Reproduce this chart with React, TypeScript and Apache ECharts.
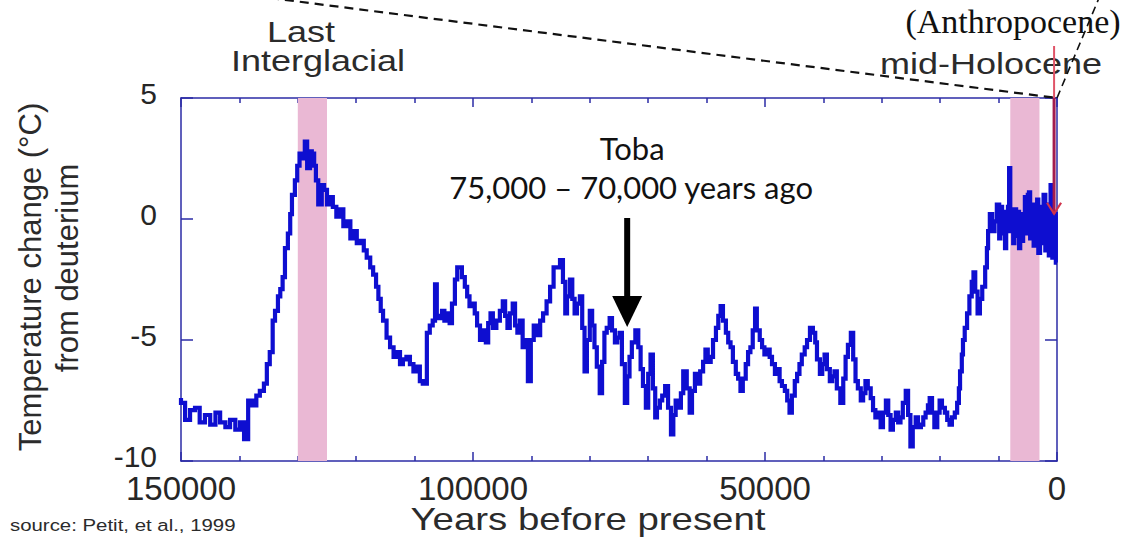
import React, { useEffect, useRef } from "react";
import * as echarts from "echarts";

// Years before present (x) and temperature change in °C (y)
const years = [
  150000, 149300, 148450, 147600, 146800, 145900, 145000, 144100, 143300, 142400,
  141600, 140700, 139900, 139200, 138500, 137800, 137100, 136500, 135800, 135300,
  134800, 134300, 133900, 133400, 133000, 132600, 132200, 131700, 131300, 131000,
  130500, 130100, 129700, 129300, 128800, 128400, 127900, 127600, 127200, 126900,
  126500, 125900, 125500, 125000, 124500, 124000, 123400, 122800, 122200, 121600,
  121000, 120500, 119900, 119300, 118700, 118200, 117600, 117100, 116600, 116200,
  115800, 115400, 114800, 114200, 113600, 113000, 112500, 112000, 111400, 110800,
  110200, 109600, 109100, 108600, 107900, 107400, 106900, 106500, 106200, 105800,
  105300, 104900, 104500, 104000, 103600, 103100, 102700, 101900, 101400, 101000,
  100600, 100200, 99700, 99300, 98800, 98300, 97800, 97400, 97000, 96600,
  96000, 95400, 94900, 94500, 94100, 93700, 93200, 92800, 92400, 92000,
  91500, 91100, 90600, 90100, 89600, 89100, 88500, 88000, 87400, 86800,
  86200, 85600, 85100, 84600, 84200, 83900, 83400, 83000, 82600, 82200,
  81700, 81300, 80900, 80500, 80000, 79600, 79200, 78800, 78300, 77900,
  77500, 77100, 76600, 76200, 75700, 75300, 74900, 74500, 74000, 73600,
  73200, 72800, 72200, 71700, 71300, 70900, 70400, 70000, 69600, 69200,
  68800, 68500, 68000, 67600, 67100, 66600, 66100, 65700, 65300, 64900,
  64400, 64000, 63400, 62900, 62500, 62000, 61600, 61100, 60600, 60200,
  59800, 59300, 58900, 58400, 58000, 57600, 57200, 56700, 56300, 55900,
  55500, 55000, 54600, 54200, 53800, 53300, 52900, 52500, 52100, 51700,
  51400, 50900, 50500, 50100, 49700, 49200, 48800, 48300, 47900, 47500,
  47100, 46600, 46200, 45800, 45400, 44900, 44500, 44100, 43700, 43200,
  42800, 42300, 41800, 41400, 41100, 40600, 40200, 39800, 39400, 38900,
  38500, 38100, 37700, 37100, 36600, 36200, 35800, 35300, 34900, 34500,
  34100, 33600, 33200, 32800, 32400, 31900, 31500, 31100, 30600, 30200,
  29800, 29300, 28900, 28500, 28100, 27600, 27200, 26800, 26400, 25900,
  25500, 25100, 24700, 24200, 23800, 23300, 22900, 22500, 22100, 21800,
  21400, 21000, 20500, 20100, 19700, 19200, 18800, 18400, 18000, 17500,
  17100, 16800, 16600, 16300, 16100, 15800, 15400, 15000, 14600, 14300,
  14000, 13600, 13200, 12800, 12300, 12000, 11800, 11500, 11100, 10700,
  10300, 9900, 9700, 9400, 9200, 8900, 8700, 8400, 8200, 8000,
  7800, 7500, 7300, 7000, 6800, 6500, 6300, 6000, 5800, 5500,
  5200, 5000, 4800, 4600, 4300, 4000, 3700, 3400, 3200, 2900,
  2600, 2300, 2000, 1700, 1400, 1100, 800, 500, 200, 0,
];

const temps = [
  -7.4, -7.6, -8.3, -7.9, -7.8, -8.4, -8.1, -8.5, -8.0, -8.4,
  -8.6, -8.3, -8.7, -8.4, -9.1, -7.5, -7.7, -7.3, -7.1, -6.8,
  -6.0, -5.5, -4.2, -3.8, -3.2, -2.9, -2.4, -1.2, -0.6, 0.2,
  1.0, 1.6, 2.2, 2.7, 2.5, 3.2, 2.1, 2.8, 2.7, 2.2,
  1.6, 0.6, 1.4, 1.2, 0.6, 0.9, 0.5, 0.1, 0.4, -0.3,
  -0.1, -0.8, -0.5, -1.0, -0.9, -1.3, -1.6, -2.0, -2.3, -2.8,
  -3.3, -3.8, -4.2, -4.9, -5.3, -5.7, -5.5, -6.0, -5.8, -5.7,
  -6.0, -6.3, -6.1, -6.7, -6.8, -4.7, -4.4, -4.2, -2.7, -4.0,
  -4.1, -3.8, -4.2, -3.9, -4.3, -3.5, -2.5, -2.0, -2.4, -2.8,
  -3.2, -3.6, -3.5, -3.9, -4.4, -5.0, -4.6, -5.1, -4.3, -3.9,
  -4.5, -4.2, -3.8, -3.4, -4.0, -4.5, -3.9, -3.5, -4.4, -4.7,
  -4.2, -5.3, -5.0, -6.7, -5.0, -4.4, -4.8, -4.2, -3.9, -3.4,
  -2.8, -2.0, -2.0, -1.7, -2.6, -3.9, -3.2, -2.5, -3.3, -3.9,
  -3.5, -3.2, -4.5, -6.3, -5.0, -3.8, -4.4, -5.3, -6.1, -7.2,
  -5.9, -4.7, -4.5, -4.1, -4.6, -5.1, -4.9, -4.7, -6.0, -7.6,
  -6.5, -5.7, -5.1, -4.6, -5.3, -6.2, -6.9, -7.8, -6.4, -5.6,
  -7.0, -8.2, -7.8, -7.5, -7.3, -6.9, -7.8, -8.9, -8.1, -7.5,
  -7.8, -7.2, -6.3, -7.0, -8.0, -7.1, -6.4, -6.8, -6.3, -5.9,
  -5.4, -5.9, -5.7, -5.0, -4.5, -4.0, -3.6, -4.2, -4.7, -5.1,
  -5.3, -5.9, -6.4, -6.6, -7.1, -6.6, -6.0, -5.5, -5.3, -4.6,
  -3.7, -4.6, -5.0, -5.3, -5.6, -5.4, -5.7, -6.0, -6.4, -6.2,
  -6.7, -6.9, -7.1, -7.5, -8.0, -7.3, -6.7, -6.4, -6.0, -5.6,
  -5.3, -5.0, -4.5, -4.7, -5.1, -5.8, -6.4, -6.0, -5.6, -6.2,
  -6.7, -6.5, -6.3, -7.0, -7.6, -6.6, -5.7, -5.2, -4.7, -5.8,
  -6.7, -7.0, -7.5, -7.2, -6.7, -7.0, -7.4, -7.9, -8.2, -8.0,
  -8.6, -8.0, -7.5, -8.1, -8.7, -8.3, -8.0, -8.4, -8.2, -7.6,
  -7.1, -8.1, -9.4, -8.6, -8.2, -8.6, -8.5, -8.2, -8.0, -7.7,
  -7.4, -8.0, -8.6, -8.0, -7.5, -7.8, -8.0, -8.3, -8.5, -8.2,
  -8.0, -7.6, -7.0, -6.3, -5.6, -5.0, -4.5, -3.9, -3.2, -2.6,
  -2.2, -3.0, -3.9, -3.3, -2.8, -2.0, -1.2, -0.5, 0.2, -0.5,
  -0.1, 0.6, -0.8, 0.5, -0.6, 0.3, -1.2, -0.4, 0.5, 2.1,
  -0.5, 0.2, -1.0, 0.4, -0.7, 0.3, -1.2, 0.2, -0.9, -0.2,
  0.9, -0.6, 1.0, 1.1, -0.8, 0.6, -1.1, -0.9, 0.8, -1.4,
  0.5, -1.0, 1.0, -1.3, 0.6, -1.5, 1.4, -1.6, 0.2, -1.8,
];

const xTickStep = 50000;
const yTickStep = 5;
const xRange = [0, 150000];
const yRange = [-10, 5];

// shaded periods: Last Interglacial and mid-Holocene
const bandStarts = [130000, 8000];
const bandEnds = [125000, 3000];

const tobaYear = 73600;
const anthropoceneYear = 500;
const anthropoceneArrowValue = 0.3;

const AXIS_COLOR = "#2b2ba6";
const CURVE_COLOR = "#0e0ed0";
const BAND_COLOR = "#eab8d4";
const LABEL_COLOR = "#262626";
const SANS = "'Liberation Sans', Arial, Helvetica, sans-serif";

export default function App() {
  const ref = useRef<HTMLDivElement>(null);

  useEffect(() => {
    if (!ref.current) return;
    const chart = echarts.init(ref.current, null, { renderer: "svg" });

    const axisCommon = {
      type: "value" as const,
      inverse: true,
      min: xRange[0],
      max: xRange[1],
      interval: xTickStep,
      axisLine: { show: true, onZero: false, lineStyle: { color: AXIS_COLOR, width: 1.5 } },
      axisTick: { show: true, inside: true, length: 9, lineStyle: { color: AXIS_COLOR, width: 1.5 } },
      minorTick: { show: true, splitNumber: 5, length: 5, lineStyle: { color: AXIS_COLOR, width: 1.5 } },
      splitLine: { show: false },
      minorSplitLine: { show: false },
    };

    const yCommon = {
      type: "value" as const,
      min: yRange[0],
      max: yRange[1],
      interval: yTickStep,
      axisLine: { show: true, onZero: false, lineStyle: { color: AXIS_COLOR, width: 1.5 } },
      axisTick: { show: true, inside: true, length: 12, lineStyle: { color: AXIS_COLOR, width: 1.5 } },
      splitLine: { show: false },
    };

    chart.setOption({
      animation: false,
      backgroundColor: "#ffffff",
      grid: { left: 181, top: 98, width: 876, height: 363, containLabel: false },
      xAxis: [
        {
          ...axisCommon,
          position: "bottom",
          axisLabel: {
            show: true,
            fontSize: 33,
            lineHeight: 28,
            fontFamily: SANS,
            color: LABEL_COLOR,
            margin: 13,
            formatter: (v: number) => String(v),
          },
        },
        { ...axisCommon, position: "top", axisLabel: { show: false } },
      ],
      yAxis: [
        {
          ...yCommon,
          position: "left",
          axisLabel: {
            show: true,
            fontSize: 30,
            lineHeight: 10,
            verticalAlign: "bottom",
            fontFamily: SANS,
            color: LABEL_COLOR,
            margin: 24,
          },
        },
        { ...yCommon, position: "right", axisLabel: { show: false } },
      ],
      series: [
        {
          type: "line",
          xAxisIndex: 0,
          yAxisIndex: 0,
          data: years.map((y, i) => [y, temps[i]]),
          step: "start",
          showSymbol: false,
          symbol: "none",
          lineStyle: { color: CURVE_COLOR, width: 4.2, join: "miter" },
          z: 3,
          markArea: {
            silent: true,
            itemStyle: { color: BAND_COLOR, opacity: 1 },
            data: bandStarts.map((s, i) => [{ xAxis: s }, { xAxis: bandEnds[i] }]),
          },
        },
      ],
    });

    const px = (x: number, y: number) =>
      chart.convertToPixel({ xAxisIndex: 0, yAxisIndex: 0 }, [x, y]) as number[];

    const corner = px(xRange[0], yRange[1]);
    const toba = px(tobaYear, 0);
    const anth = px(anthropoceneYear, anthropoceneArrowValue);
    const gridTop = corner[1];

    const stretched = (text: string, x: number, y: number, size: number, align = "center") => ({
      type: "text",
      x,
      y,
      scaleX: 1.2,
      silent: true,
      z: 20,
      style: {
        text,
        x: 0,
        y: 0,
        align,
        verticalAlign: "middle",
        font: `${size}px ${SANS}`,
        fill: "#2b2b2b",
      },
    });

    chart.setOption({
      graphic: [
        // dashed guide lines to the top-right corner
        {
          type: "line",
          silent: true,
          z: 30,
          shape: { x1: 270, y1: -2, x2: corner[0], y2: corner[1] },
          style: { stroke: "#111111", lineWidth: 2.2, lineDash: [9, 6] },
        },
        {
          type: "line",
          silent: true,
          z: 30,
          shape: { x1: corner[0], y1: corner[1], x2: corner[0] + 42, y2: -2 },
          style: { stroke: "#111111", lineWidth: 1.6, lineDash: [8, 5] },
        },
        // Anthropocene red marker
        {
          type: "line",
          silent: true,
          z: 25,
          shape: { x1: anth[0], y1: 46, x2: anth[0], y2: gridTop },
          style: { stroke: "#e05468", lineWidth: 2 },
        },
        {
          type: "line",
          silent: true,
          z: 25,
          shape: { x1: anth[0], y1: gridTop, x2: anth[0], y2: anth[1] + 2 },
          style: { stroke: "#a31d4e", lineWidth: 3 },
        },
        {
          type: "polyline",
          silent: true,
          z: 25,
          shape: {
            points: [
              [anth[0] - 7, anth[1] - 9],
              [anth[0], anth[1] + 2],
              [anth[0] + 7, anth[1] - 9],
            ],
          },
          style: { stroke: "#d0344c", lineWidth: 2.2, fill: "none" },
        },
        // Toba arrow
        {
          type: "rect",
          silent: true,
          z: 30,
          shape: { x: toba[0] - 3, y: 218, width: 6, height: 80 },
          style: { fill: "#000000" },
        },
        {
          type: "polygon",
          silent: true,
          z: 30,
          shape: {
            points: [
              [toba[0] - 15, 296],
              [toba[0] + 15, 296],
              [toba[0], 327],
            ],
          },
          style: { fill: "#000000" },
        },
        {
          type: "text",
          silent: true,
          z: 30,
          style: {
            text: "Toba",
            x: toba[0] + 5,
            y: 148,
            align: "center",
            verticalAlign: "middle",
            font: "31px Lato, 'Open Sans', sans-serif",
            fill: "#111111",
          },
        },
        {
          type: "text",
          silent: true,
          z: 30,
          style: {
            text: "75,000 – 70,000 years ago",
            x: toba[0] + 4,
            y: 187,
            align: "center",
            verticalAlign: "middle",
            font: "31px Lato, 'Open Sans', sans-serif",
            fill: "#111111",
          },
        },
        // period labels
        stretched("Last", 301, 32, 30),
        stretched("Interglacial", 318, 61, 30),
        stretched("mid-Holocene", 991, 64, 30),
        {
          type: "text",
          silent: true,
          z: 30,
          style: {
            text: "(Anthropocene)",
            x: 1013,
            y: 21,
            align: "center",
            verticalAlign: "middle",
            font: "34px 'Liberation Serif', 'Times New Roman', serif",
            fill: "#111111",
          },
        },
        // axis titles
        stretched("Years before present", 588, 519, 32),
        {
          type: "text",
          silent: true,
          z: 20,
          x: 30,
          y: 277,
          rotation: Math.PI / 2,
          style: {
            text: "Temperature change (°C)",
            x: 0,
            y: 0,
            align: "center",
            verticalAlign: "middle",
            font: `31px ${SANS}`,
            fill: "#2b2b2b",
          },
        },
        {
          type: "text",
          silent: true,
          z: 20,
          x: 67,
          y: 268,
          rotation: Math.PI / 2,
          style: {
            text: "from deuterium",
            x: 0,
            y: 0,
            align: "center",
            verticalAlign: "middle",
            font: `31px ${SANS}`,
            fill: "#2b2b2b",
          },
        },
        stretched("source: Petit, et al., 1999", 10, 525, 17, "left"),
      ],
    });

    return () => chart.dispose();
  }, []);

  return (
    <div
      ref={ref}
      style={{ position: "fixed", left: 0, top: 0, width: 1142, height: 542, background: "#fff" }}
    />
  );
}
